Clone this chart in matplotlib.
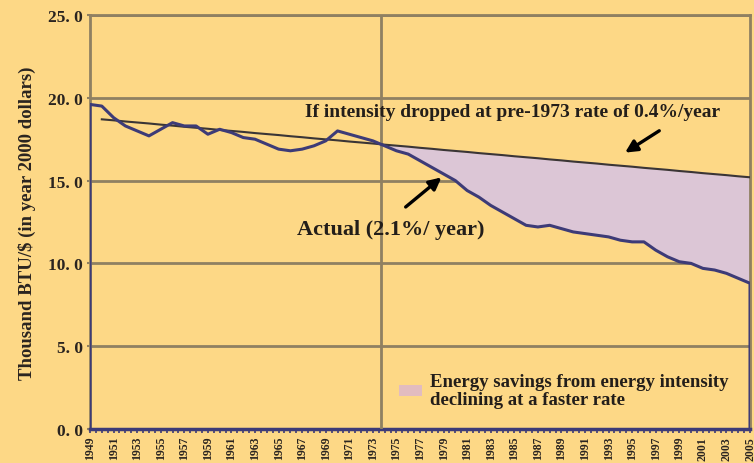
import numpy as np
import matplotlib
matplotlib.use('Agg')
import matplotlib.pyplot as plt
from matplotlib.patches import Patch

# years on the axis
years = list(range(1949, 2006))

# actual energy intensity (thousand BTU per 2000 dollar)
actual = [19.6, 19.5, 18.8, 18.3, 18.0, 17.7, 18.1, 18.5, 18.3, 18.3,
          17.8, 18.1, 17.9, 17.6, 17.5, 17.2, 16.9, 16.8, 16.9, 17.1,
          17.4, 18.0, 17.8, 17.6, 17.4, 17.1, 16.8, 16.6, 16.2, 15.8,
          15.4, 15.0, 14.4, 14.0, 13.5, 13.1, 12.7, 12.3, 12.2, 12.3,
          12.1, 11.9, 11.8, 11.7, 11.6, 11.4, 11.3, 11.3, 10.8, 10.4,
          10.1, 10.0, 9.7, 9.6, 9.4, 9.1, 8.8]

# pre-1973 trend line (0.4%/year), starts in 1950
trend_years = list(range(1950, 2006))
trend = [18.70, 18.64, 18.57, 18.51, 18.45, 18.38, 18.32, 18.25, 18.19, 18.13,
         18.06, 18.00, 17.94, 17.87, 17.81, 17.75, 17.68, 17.62, 17.55, 17.49,
         17.43, 17.36, 17.30, 17.24, 17.17, 17.11, 17.05, 16.98, 16.92, 16.85,
         16.79, 16.73, 16.66, 16.60, 16.54, 16.47, 16.41, 16.35, 16.28, 16.22,
         16.15, 16.09, 16.03, 15.96, 15.90, 15.84, 15.77, 15.71, 15.65, 15.58,
         15.52, 15.45, 15.39, 15.33, 15.26, 15.20]

yticks = [0, 5, 10, 15, 20, 25]
ytick_labels = ['0. 0', '5. 0', '10. 0', '15. 0', '20. 0', '25. 0']
xtick_years = list(range(1949, 2006, 2))

bg = '#fdd886'
grid_c = '#8f8062'
navy = '#3d3b77'
fill_c = '#dcc6d6'
txt_c = '#231e1a'
serif = ['Liberation Serif', 'DejaVu Serif']

plt.rcParams['font.family'] = serif
plt.rcParams['font.weight'] = 'bold'

fig = plt.figure(figsize=(7.54, 4.64), dpi=100, facecolor=bg)
ax = fig.add_axes([0.1194, 0.0733, 0.8753, 0.8922])
ax.set_facecolor(bg)

# savings area between trend and actual after 1973
act = np.array(actual)
tr = dict(zip(trend_years, trend))
yrs_f = [y for y in years if y >= 1973]
ax.fill_between(yrs_f, [act[years.index(y)] for y in yrs_f], [tr[y] for y in yrs_f],
                color=fill_c, lw=0, zorder=2)

# horizontal grid lines
for v in [5, 10, 15, 20, 25]:
    ax.axhline(v, color=grid_c, lw=2, zorder=1)
ax.axvline(1973.7, color=grid_c, lw=2, zorder=3)

ax.plot(trend_years, trend, color='#3a3536', lw=1.5, zorder=4)
# actual series drawn as an outline down to the axis
ax.plot([years[0]] + years + [years[-1]], [0] + actual + [0], color=navy, lw=2.2, zorder=5)

ax.set_xlim(1949, 2005)
ax.set_ylim(0, 25)

ax.set_yticks(yticks)
ax.set_yticklabels(ytick_labels, fontsize=12.5, fontweight='bold', color='#2a2420')
ax.set_xticks(xtick_years)
ax.set_xticklabels([str(y) for y in xtick_years], rotation=90, fontsize=8.5,
                   fontweight='bold', color='#2a2420')
ax.set_xticks(np.arange(1949, 2005.5, 0.5), minor=True)
ax.tick_params(axis='x', which='both', length=3, width=1.2, color=navy, pad=2)
ax.tick_params(axis='y', length=2, width=1.5, color=grid_c, pad=3)

for s in ['left', 'top', 'right']:
    ax.spines[s].set_color(grid_c)
    ax.spines[s].set_linewidth(2)
ax.spines['bottom'].set_color(navy)
ax.spines['bottom'].set_linewidth(2.5)

ax.set_ylabel('Thousand BTU/$ (in year 2000 dollars)', fontsize=13.5,
              fontweight='bold', color='#2a2420', labelpad=9)

ax.text(1967.2, 19.2, 'If intensity dropped at pre-1973 rate of 0.4%/year',
        fontsize=14, fontweight='bold', color=txt_c, va='center', ha='left')
ax.annotate('', xy=(1994.2, 16.6), xytext=(1997.5, 18.1),
            arrowprops=dict(arrowstyle='-|>', color='black', lw=2.4,
                            mutation_scale=18))
ax.text(1966.6, 12.1, 'Actual (2.1%/ year)', fontsize=16, fontweight='bold',
        color=txt_c, va='center', ha='left')
ax.annotate('', xy=(1979.0, 15.3), xytext=(1975.6, 13.3),
            arrowprops=dict(arrowstyle='-|>', color='black', lw=2.4,
                            mutation_scale=18))

leg = ax.legend(handles=[Patch(facecolor='#e2bcc0', edgecolor='none')],
                labels=['Energy savings from energy intensity\ndeclining at a faster rate'],
                loc='upper left', bbox_to_anchor=(0.454, 0.158), frameon=False,
                handlelength=1.2, handleheight=0.6, handletextpad=0.45,
                borderpad=0, prop={'family': serif, 'weight': 'bold', 'size': 13.5})
for t in leg.get_texts():
    t.set_color(txt_c)
    t.set_linespacing(1.1)

fig.savefig('out.png', dpi=100, facecolor=bg)
